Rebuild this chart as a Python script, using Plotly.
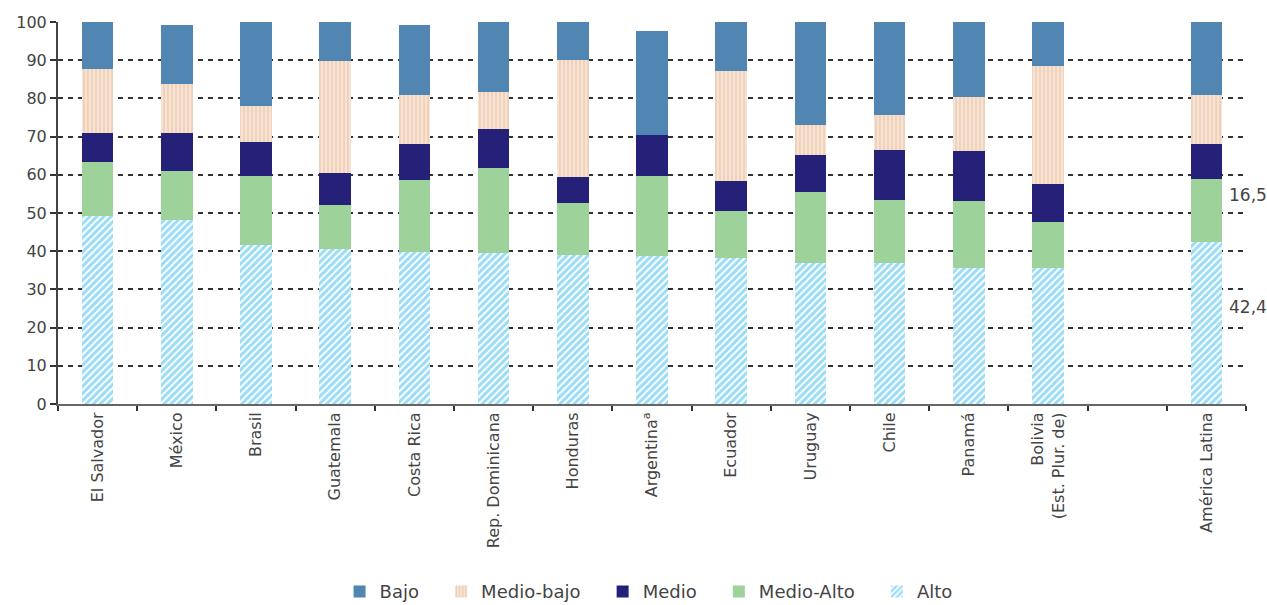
import plotly.graph_objects as go

categories = ["El Salvador", "México", "Brasil", "Guatemala", "Costa Rica",
              "Rep. Dominicana", "Honduras", "Argentina<sup>a</sup>", "Ecuador",
              "Uruguay", "Chile", "Panamá", "Bolivia<br>(Est. Plur. de)", " ",
              "América Latina"]

alto       = [49.2, 48.1, 41.6, 40.7, 39.8, 39.6, 39.1, 38.7, 38.1, 37.0, 37.0, 35.6, 35.6, None, 42.4]
medio_alto = [14.2, 13.0, 18.1, 11.4, 18.8, 22.1, 13.4, 21.0, 12.5, 18.6, 16.5, 17.5, 12.0, None, 16.5]
medio      = [7.6, 9.9, 8.8, 8.3, 9.5, 10.4, 7.0, 10.7, 7.8, 9.6, 13.0, 13.1, 10.0, None, 9.2]
medio_bajo = [16.7, 12.7, 9.6, 29.5, 12.7, 9.7, 30.6, 0.0, 28.8, 7.9, 9.2, 14.1, 30.8, None, 12.7]
bajo       = [12.3, 15.6, 21.9, 10.1, 18.5, 18.2, 9.9, 27.3, 12.8, 26.9, 24.3, 19.7, 11.6, None, 19.2]

series_names = ["Alto", "Medio-Alto", "Medio", "Medio-bajo", "Bajo"]

FONT = "DejaVu Sans, Arial, sans-serif"
TXT = "#444444"
PAD = "\u00a0\u00a0\u00a0"

fig = go.Figure()
fig.add_trace(go.Bar(
    name=series_names[0], x=categories, y=alto,
    marker=dict(color="white", line=dict(width=0),
                pattern=dict(shape="/", fgcolor="#38b9ec", bgcolor="white",
                             size=5, solidity=0.6, fillmode="overlay"))))
fig.add_trace(go.Bar(
    name=series_names[1] + PAD, x=categories, y=medio_alto,
    marker=dict(color="#9dd29a", line=dict(width=0))))
fig.add_trace(go.Bar(
    name=series_names[2] + PAD, x=categories, y=medio,
    marker=dict(color="#252078", line=dict(width=0))))
fig.add_trace(go.Bar(
    name=series_names[3] + PAD, x=categories, y=medio_bajo,
    marker=dict(color="#f5dcc8", line=dict(width=0),
                pattern=dict(shape="|", fgcolor="#e6b994", bgcolor="#f7e3d4",
                             size=4, solidity=0.4, fillmode="overlay"))))
fig.add_trace(go.Bar(
    name=series_names[4] + PAD, x=categories, y=bajo,
    marker=dict(color="#5086b1", line=dict(width=0))))

# value labels for América Latina
ann_vals = [(medio_alto[-1], alto[-1] + 0.75 * medio_alto[-1]),
            (alto[-1], 0.6 * alto[-1])]
for v, ypos in ann_vals:
    fig.add_annotation(x=categories[-1], y=ypos, text=f"{v:.1f}".replace(".", ","),
                       showarrow=False, xanchor="left", yanchor="middle", xshift=21,
                       font=dict(family=FONT, size=17, color=TXT))

fig.update_layout(
    barmode="stack", bargap=0.6,
    width=1267, height=605,
    margin=dict(l=58, r=21, t=22, b=201, autoexpand=False),
    plot_bgcolor="white", paper_bgcolor="white",
    font=dict(family=FONT, color=TXT),
    legend=dict(orientation="h", xref="container", x=0.268, xanchor="left",
                yref="container", y=0.022, yanchor="middle",
                traceorder="reversed", font=dict(family=FONT, size=18, color=TXT),
                itemclick=False),
    xaxis=dict(type="category", categoryorder="array", categoryarray=categories,
               tickangle=-90, tickfont=dict(family=FONT, size=16, color=TXT),
               showline=True, linecolor="#666666", linewidth=2, automargin=False,
               ticks="outside", tickson="boundaries", ticklen=5, tickwidth=2,
               tickcolor="#333333", showgrid=False, range=[-0.5, 14.5]),
    yaxis=dict(range=[0, 100], tickvals=list(range(0, 101, 10)), automargin=False,
               tickfont=dict(family=FONT, size=16, color=TXT),
               showline=True, linecolor="#444444", linewidth=2,
               ticks="outside", ticklen=6, tickwidth=2, tickcolor="#333333",
               showgrid=True, gridcolor="#333333", gridwidth=2, griddash="5px,5px",
               zeroline=False),
)

fig.write_html("out.html")
